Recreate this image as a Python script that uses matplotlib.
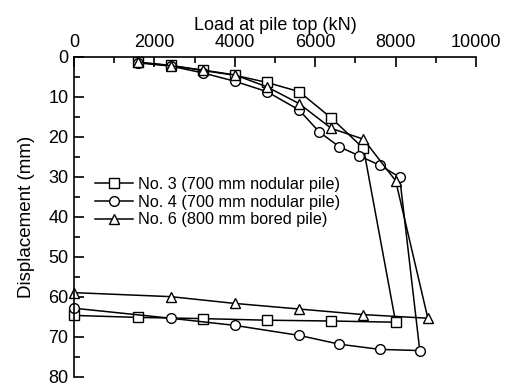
import matplotlib
matplotlib.use("Agg")
import matplotlib.pyplot as plt
from matplotlib.ticker import MultipleLocator

plt.rcParams['font.family'] = ['Liberation Sans', 'DejaVu Sans']

# Load-settlement data for the three test piles (loading then unloading)
load_no3 = [1600, 2400, 3200, 4000, 4800, 5600, 6400, 7200, 8000, 6400, 4800, 3200, 1600, 0]
disp_no3 = [1.4, 2.1, 3.4, 4.6, 6.4, 8.7, 15.3, 22.9, 66.4, 66.1, 65.9, 65.5, 65.2, 64.7]

load_no4 = [1600, 2400, 3200, 4000, 4800, 5600, 6100, 6600, 7100, 7600, 8100,
            8600, 7600, 6600, 5600, 4000, 2400, 0]
disp_no4 = [1.5, 2.3, 4.0, 6.1, 8.7, 13.3, 18.8, 22.5, 24.8, 27.1, 30.1,
            73.5, 73.2, 71.9, 69.7, 67.2, 65.4, 62.9]

load_no6 = [1600, 2400, 3200, 4000, 4800, 5600, 6400, 7200, 8000, 8800, 7200, 5600, 4000, 2400, 0]
disp_no6 = [1.3, 2.2, 3.3, 4.5, 7.5, 11.7, 17.9, 20.6, 31.0, 65.4, 64.5, 63.1, 61.7, 60.0, 59.0]

labels = ["No. 3 (700 mm nodular pile)",
          "No. 4 (700 mm nodular pile)",
          "No. 6 (800 mm bored pile)"]

fig = plt.figure(figsize=(5.07, 3.87), dpi=100)
ax = fig.add_axes([0.146, 0.027, 0.793, 0.826])

style = dict(color='black', lw=1.1, markerfacecolor='white',
             markeredgecolor='black', markeredgewidth=1.0, clip_on=False)
ax.plot(load_no3, disp_no3, marker='s', ms=6.5, label=labels[0], **style)
ax.plot(load_no4, disp_no4, marker='o', ms=7, label=labels[1], **style)
ax.plot(load_no6, disp_no6, marker='^', ms=7.5, label=labels[2], **style)

ax.set_xlim(0, 10000)
ax.set_ylim(80, 0)
ax.xaxis.set_major_locator(MultipleLocator(2000))
ax.xaxis.set_minor_locator(MultipleLocator(1000))
ax.yaxis.set_major_locator(MultipleLocator(10))
ax.yaxis.set_minor_locator(MultipleLocator(5))

ax.spines['right'].set_visible(False)
ax.spines['bottom'].set_visible(False)
for s in ('left', 'top'):
    ax.spines[s].set_linewidth(1.2)

ax.tick_params(which='both', direction='in', top=True, bottom=False,
               labeltop=True, labelbottom=False, right=False, width=1.2,
               labelsize=13)
ax.tick_params(which='major', length=7, pad=4)
ax.tick_params(which='minor', length=4)

ax.xaxis.set_label_position('top')
ax.set_xlabel("Load at pile top (kN)", fontsize=13, labelpad=3)
ax.set_ylabel("Displacement (mm)", fontsize=13.5)
ax.yaxis.set_label_coords(-0.096, 0.5)

ax.legend(loc='center left', bbox_to_anchor=(0.036, 0.546), frameon=False,
          fontsize=11.7, handlelength=2.34, handletextpad=0.3,
          labelspacing=0.17, borderaxespad=0.0, borderpad=0.4)

fig.savefig("out.png", dpi=100)
